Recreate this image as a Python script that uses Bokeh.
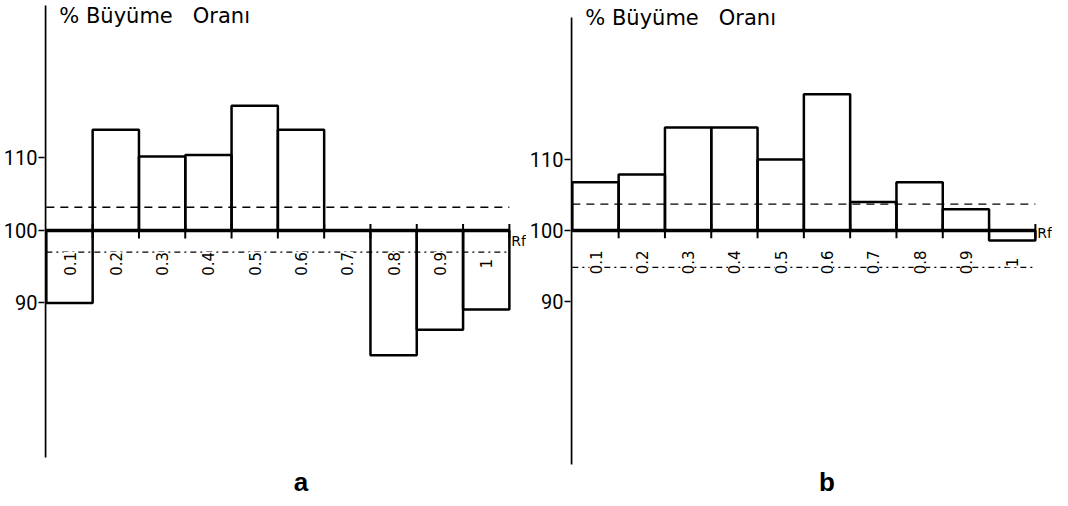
import math
from bokeh.plotting import figure
from bokeh.layouts import row
from bokeh.models import ColumnDataSource, FixedTicker, Label, Range1d
from bokeh.core.properties import value
from bokeh.embed import file_html
from bokeh.resources import INLINE

# ---- data ----
categories = ["0.1", "0.2", "0.3", "0.4", "0.5", "0.6", "0.7", "0.8", "0.9", "1"]
growth_a = [90.0, 113.9, 110.2, 110.4, 117.2, 113.9, 100.0, 82.8, 86.3, 89.1]
growth_b = [106.8, 107.9, 114.5, 114.5, 110.0, 119.2, 104.0, 106.8, 103.0, 98.6]
upper_a, lower_a = 103.2, 97.0
upper_b, lower_b = 103.7, 94.8
reference_value = 100
y_ticks = [90, 100, 110]
y_title = "% Büyüme \u00a0\u00a0Oranı"
panel_names = ["a", "b"]

FONT = "DejaVu Sans"


def make_panel(values, upper, lower, name, yr, axis_span, label_y, rf_y, name_y, title_y):
    n = len(values)
    idx = list(range(n))
    first = -0.5
    last = n - 0.5
    p = figure(width=526, height=498, output_backend="svg", toolbar_location=None,
               x_range=Range1d(-0.54, 9.87), y_range=Range1d(*yr), x_axis_location=None,
               min_border_left=42, min_border_right=0,
               min_border_top=0, min_border_bottom=0)
    p.outline_line_color = None
    p.grid.visible = False
    p.background_fill_color = "white"
    p.border_fill_color = "white"

    ax = p.yaxis[0]
    ax.ticker = FixedTicker(ticks=y_ticks)
    ax.axis_line_color = None
    ax.major_tick_line_width = 1.5
    ax.major_tick_out = 6
    ax.major_tick_in = 0
    ax.minor_tick_line_color = None
    ax.major_label_standoff = 1
    ax.major_label_text_font = "Roboto"
    ax.major_label_text_font_size = "20px"
    ax.major_label_text_color = "black"

    # vertical axis line (drawn over its visible extent)
    p.segment(x0=[first - 0.02], x1=[first - 0.02], y0=[axis_span[0]], y1=[axis_span[1]],
              line_color="black", line_width=2)

    # dashed reference lines
    p.segment(x0=[first], x1=[last], y0=[upper], y1=[upper], line_color="black",
              line_width=1.3, line_dash="8 6")
    p.segment(x0=[first], x1=[last], y0=[lower], y1=[lower], line_color="black",
              line_width=1.3, line_dash="6 4 2 4")

    # bars
    src = ColumnDataSource(dict(x=idx, top=values, bottom=[reference_value] * n))
    p.vbar(x="x", width=1, top="top", bottom="bottom", source=src,
           fill_color=None, line_color="black", line_width=2.5)

    # baseline
    p.segment(x0=[first], x1=[last], y0=[reference_value], y1=[reference_value],
              line_color="black", line_width=3.5)
    # boundary ticks
    bounds = [first + k for k in range(1, n + 1)]
    p.segment(x0=bounds, x1=bounds, y0=[reference_value + 0.9] * n,
              y1=[reference_value - 1.1] * n, line_color="black", line_width=2)

    # category labels (rotated)
    lsrc = ColumnDataSource(dict(x=idx, y=[label_y] * n, t=categories))
    p.text(x="x", y="y", text="t", source=lsrc, angle=math.pi / 2,
           text_align="center", text_baseline="middle", text_font=value(FONT),
           text_font_size="15px", text_color="black",
           background_fill_color="white")

    # texts
    p.add_layout(Label(x=first + 0.28, y=title_y, text=y_title, text_font=FONT,
                       text_font_size="21px", text_baseline="middle", text_color="black"))
    p.add_layout(Label(x=last + 0.04, y=rf_y, text="Rf", text_font=FONT,
                       text_font_size="14px", text_baseline="middle", text_color="black"))
    p.add_layout(Label(x=5.0, y=name_y, text=name, text_font="Liberation Sans",
                       text_font_size="26px", text_font_style="bold",
                       text_align="center", text_baseline="middle", text_color="black"))
    return p


p1 = make_panel(growth_a, upper_a, lower_a, panel_names[0],
                yr=(63.03, 131.72), axis_span=(68.69, 131.03),
                label_y=95.4, rf_y=98.6, name_y=65.3, title_y=129.65)
p2 = make_panel(growth_b, upper_b, lower_b, panel_names[1],
                yr=(62.25, 132.39), axis_span=(67.04, 130.0),
                label_y=95.5, rf_y=99.6, name_y=64.6, title_y=129.86)

layout = row(p1, p2)
open("out.html", "w").write(file_html(layout, INLINE))
